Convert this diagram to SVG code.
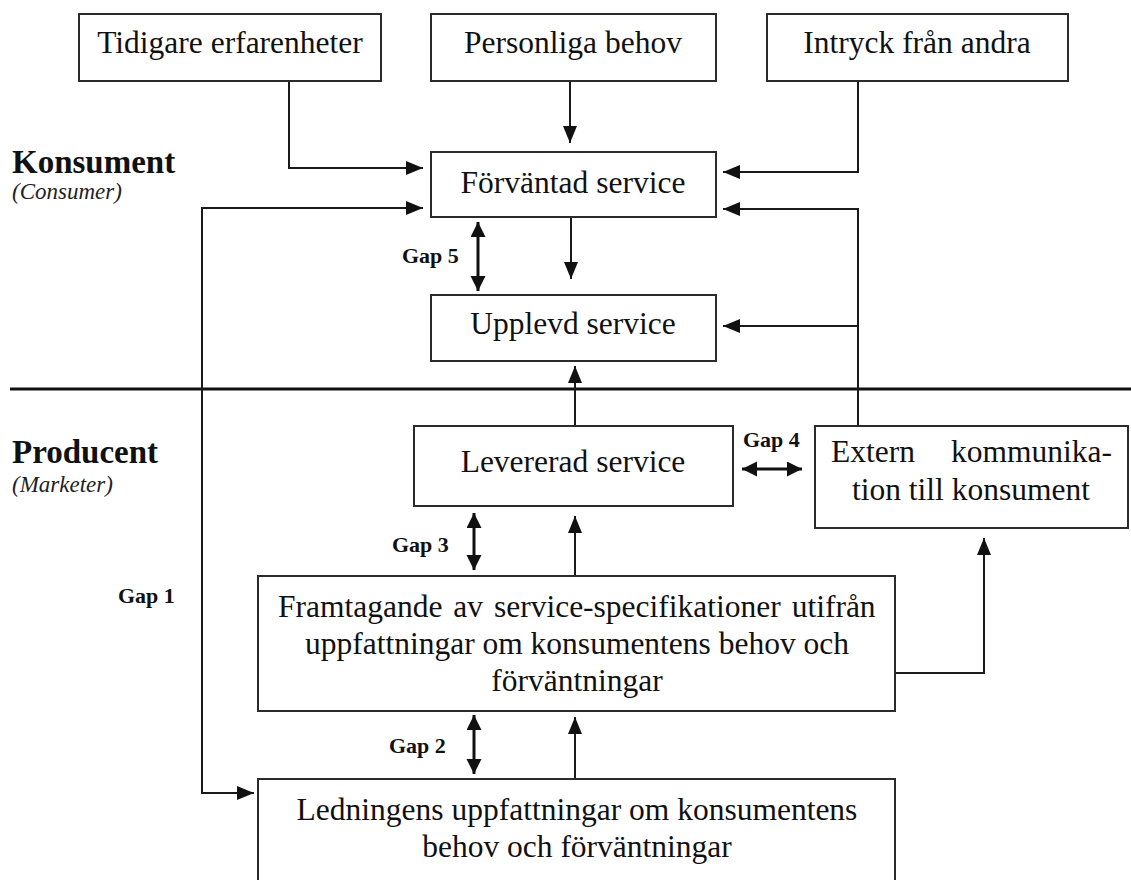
<svg xmlns="http://www.w3.org/2000/svg" width="1131" height="880" viewBox="0 0 1131 880">
<defs>
<style>
.box{fill:#fff;stroke:#2b2b2b;stroke-width:2}
.t{font-family:"Liberation Serif","Times New Roman",serif;font-size:31.5px;fill:#111;text-anchor:middle}
.gap{font-family:"Liberation Serif","Times New Roman",serif;font-size:22px;font-weight:bold;fill:#111}
.side{font-family:"Liberation Serif","Times New Roman",serif;font-size:33px;font-weight:bold;fill:#111}
.sub{font-family:"Liberation Serif","Times New Roman",serif;font-size:23px;font-style:italic;fill:#222}
.c{fill:none;stroke:#1a1a1a;stroke-width:2}
.g{fill:none;stroke:#111;stroke-width:3}
</style>
<marker id="ah" markerUnits="userSpaceOnUse" markerWidth="18" markerHeight="16" refX="17" refY="7" orient="auto-start-reverse">
<path d="M0,0 L17,7 L0,14 Z" fill="#111"/>
</marker>
<marker id="gh" markerUnits="userSpaceOnUse" markerWidth="16" markerHeight="16" refX="15" refY="7.5" orient="auto-start-reverse">
<path d="M0,0 L15,7.5 L0,15 Z" fill="#111"/>
</marker>
</defs>
<rect width="1131" height="880" fill="#fff"/>

<g id="side-labels">
<text class="side" x="12" y="173">Konsument</text>
<text class="sub" x="12" y="199">(Consumer)</text>
<text class="side" x="12" y="463">Producent</text>
<text class="sub" x="12" y="492">(Marketer)</text>
<line x1="10" y1="389" x2="1131" y2="389" stroke="#111" stroke-width="3"/>
</g>

<g id="connectors">
<path class="c" d="M289,81 V168 H423" marker-end="url(#ah)"/>
<path class="c" d="M570,81 V143" marker-end="url(#ah)"/>
<path class="c" d="M858,81 V172 H723" marker-end="url(#ah)"/>
<path class="c" d="M858,426 V209 H723" marker-end="url(#ah)"/>
<path class="c" d="M858,326 H723" marker-end="url(#ah)"/>
<path class="c" d="M423,208 H202 V793 H254" marker-start="url(#ah)" marker-end="url(#ah)"/>
<path class="c" d="M571,217 V279" marker-end="url(#ah)"/>
<path class="c" d="M575,426 V366" marker-end="url(#ah)"/>
<path class="c" d="M575,576 V516" marker-end="url(#ah)"/>
<path class="c" d="M575,779 V717" marker-end="url(#ah)"/>
<path class="c" d="M895,673 H984 V538" marker-end="url(#ah)"/>
<path class="g" d="M478,222 V291" marker-start="url(#gh)" marker-end="url(#gh)"/>
<path class="g" d="M742,469 H802" marker-start="url(#gh)" marker-end="url(#gh)"/>
<path class="g" d="M474,513 V570" marker-start="url(#gh)" marker-end="url(#gh)"/>
<path class="g" d="M474,715 V774" marker-start="url(#gh)" marker-end="url(#gh)"/>
<text class="gap" x="402" y="263">Gap 5</text>
<text class="gap" x="743" y="447">Gap 4</text>
<text class="gap" x="392" y="552">Gap 3</text>
<text class="gap" x="389" y="753">Gap 2</text>
<text class="gap" x="118" y="603">Gap 1</text>
</g>

<g id="tidigare">
<rect class="box" x="79" y="14" width="302" height="67"/>
<text class="t" x="230" y="53">Tidigare erfarenheter</text>
</g>
<g id="personliga">
<rect class="box" x="431" y="14" width="285" height="67"/>
<text class="t" x="573" y="53">Personliga behov</text>
</g>
<g id="intryck">
<rect class="box" x="767" y="14" width="301" height="67"/>
<text class="t" x="917" y="53">Intryck från andra</text>
</g>
<g id="forvantad">
<rect class="box" x="431" y="152" width="285" height="65"/>
<text class="t" x="573" y="193">Förväntad service</text>
</g>
<g id="upplevd">
<rect class="box" x="431" y="295" width="285" height="66"/>
<text class="t" x="573" y="334">Upplevd service</text>
</g>
<g id="levererad">
<rect class="box" x="414" y="426" width="319" height="80"/>
<text class="t" x="573" y="472">Levererad service</text>
</g>
<g id="extern">
<rect class="box" x="815" y="426" width="313" height="102"/>
<text class="t" x="831" y="462" style="text-anchor:start">Extern</text>
<text class="t" x="1112" y="462" style="text-anchor:end">kommunika-</text>
<text class="t" x="971" y="500">tion till konsument</text>
</g>
<g id="framtagande">
<rect class="box" x="258" y="576" width="637" height="135"/>
<text class="t" x="278" y="617" style="text-anchor:start;word-spacing:3px">Framtagande av service-specifikationer utifrån</text>
<text class="t" x="577" y="654">uppfattningar om konsumentens behov och</text>
<text class="t" x="577" y="691">förväntningar</text>
</g>
<g id="ledningens">
<rect class="box" x="258" y="779" width="637" height="120"/>
<text class="t" x="577" y="820">Ledningens uppfattningar om konsumentens</text>
<text class="t" x="577" y="857">behov och förväntningar</text>
</g>
</svg>
